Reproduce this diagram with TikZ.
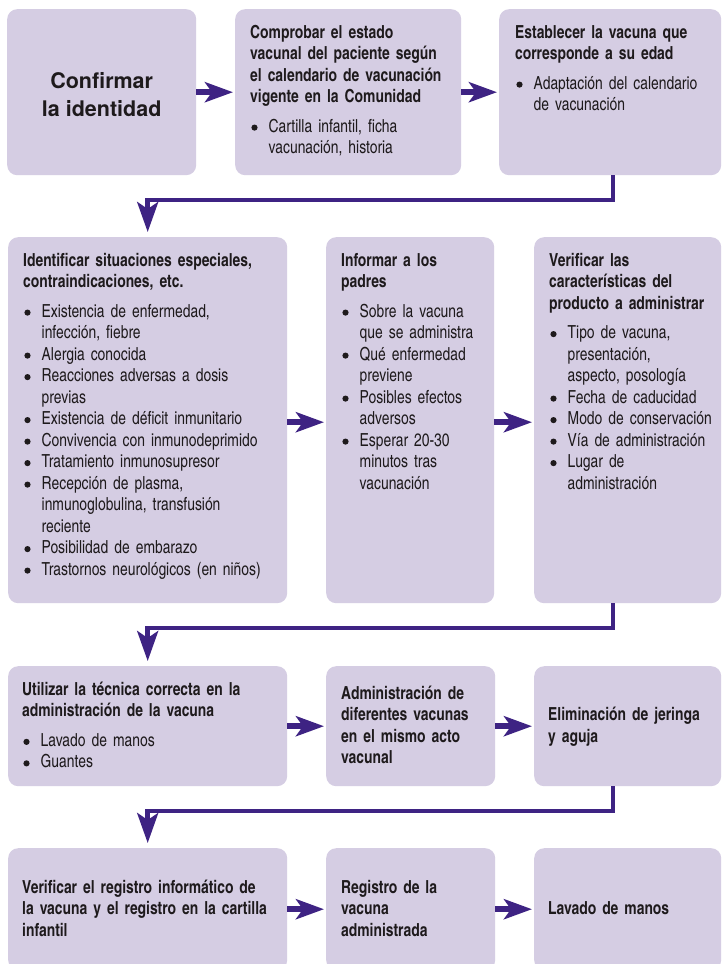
\documentclass[tikz,border=0pt]{standalone}
\usepackage{fontspec}
\setmainfont{texgyreheroscn}[Extension=.otf,UprightFont=*-regular,BoldFont=*-bold,ItalicFont=*-italic,BoldItalicFont=*-bolditalic,FakeStretch=0.94]
\newfontfamily\widefont{texgyreheros}[Extension=.otf,UprightFont=*-regular,BoldFont=*-bold,ItalicFont=*-italic,BoldItalicFont=*-bolditalic]
\usetikzlibrary{arrows.meta}
\definecolor{boxc}{HTML}{D5CDE3}
\definecolor{arc}{HTML}{3E2383}
\definecolor{textc}{HTML}{1E1A1C}
\setlength{\parindent}{0pt}
\setlength{\parskip}{0pt}
\newcommand\bmark{\tikz[baseline=0pt]\fill[textc] (0pt,4.6pt) circle[radius=3.1pt];}
\newcommand\bitem[1]{\par\hangindent=18.5pt\hangafter=1\relax\noindent\makebox[18.5pt][l]{\hspace{1.2pt}\bmark}#1\par}
\newcommand\btitle[1]{\noindent\rule{0pt}{16pt}\textbf{#1}\par\vspace{8pt}}
\newcommand\bonly[1]{\noindent\rule{0pt}{16pt}\textbf{#1}\rule[-5pt]{0pt}{5pt}}
\newcommand\dstrut{\rule[-5pt]{0pt}{5pt}}
\begin{document}
\begin{tikzpicture}[x=1pt,y=-1pt,
  box/.style={fill=boxc,draw=none,rounded corners=10pt,inner sep=0pt,anchor=north west},
  txt/.style={inner sep=0pt,text width=268pt,text=textc,font=\fontsize{18}{21.5}\selectfont},
  harrow/.style={draw=arc,line width=5.5pt,-{Stealth[length=28pt,width=20pt,inset=7pt]},shorten >=2pt},
  conn/.style={draw=arc,line width=4.5pt,line join=miter,-{Stealth[length=30pt,width=21pt,inset=7pt]},shorten >=5pt}]
\useasboundingbox (0,0) rectangle (722,964);
\fill[white] (0,0) rectangle (722,964);
\clip (0,0) rectangle (722,964);
% boxes
\node[box,minimum width=189pt,minimum height=166pt] (A) at (7,9) {};
\node[box,minimum width=226pt,minimum height=166pt] (B) at (235,9) {};
\node[box,minimum width=222pt,minimum height=166pt] (C) at (499,9) {};
\node[box,minimum width=279pt,minimum height=366pt] (D) at (8,237) {};
\node[box,minimum width=168pt,minimum height=366pt] (E) at (326,237) {};
\node[box,minimum width=187pt,minimum height=366pt] (F) at (534,237) {};
\node[box,minimum width=279pt,minimum height=120pt] (G) at (8,666) {};
\node[box,minimum width=169pt,minimum height=120pt] (H) at (326,666) {};
\node[box,minimum width=187pt,minimum height=120pt] (I) at (534,666) {};
\node[box,minimum width=279pt,minimum height=122pt] (J) at (8,848) {};
\node[box,minimum width=169pt,minimum height=122pt] (K) at (326,848) {};
\node[box,minimum width=187pt,minimum height=122pt] (L) at (534,848) {};
% texts
\node[inner sep=0pt,align=center,text=textc,font=\widefont\bfseries\fontsize{21.5}{28}\selectfont] (tA) at ([yshift=-2pt]A.center) {Confirmar\\la identidad};
\node[txt,anchor=north west] (tB) at ([shift={(15,13)}]B.north west) {\btitle{Comprobar el estado\newline vacunal del paciente según\newline el calendario de vacunación\newline vigente en la Comunidad}\bitem{Cartilla infantil, ficha\newline vacunación, historia}};
\node[txt,anchor=north west] (tC) at ([shift={(16,13)}]C.north west) {\btitle{Establecer la vacuna que\newline corresponde a su edad}\bitem{Adaptación del calendario\newline de vacunación}};
\node[txt,anchor=north west] (tD) at ([shift={(15,13)}]D.north west) {\btitle{Identificar situaciones especiales,\newline contraindicaciones, etc.}\bitem{Existencia de enfermedad,\newline infección, fiebre}\bitem{Alergia conocida}\bitem{Reacciones adversas a dosis\newline previas}\bitem{Existencia de déficit inmunitario}\bitem{Convivencia con inmunodeprimido}\bitem{Tratamiento inmunosupresor}\bitem{Recepción de plasma,\newline inmunoglobulina, transfusión\newline reciente}\bitem{Posibilidad de embarazo}\bitem{Trastornos neurológicos (en niños)}};
\node[txt,anchor=north west] (tE) at ([shift={(15,13)}]E.north west) {\btitle{Informar a los\newline padres}\bitem{Sobre la vacuna\newline que se administra}\bitem{Qué enfermedad\newline previene}\bitem{Posibles efectos\newline adversos}\bitem{Esperar 20-30\newline minutos tras\newline vacunación}};
\node[txt,anchor=north west] (tF) at ([shift={(15,13)}]F.north west) {\btitle{Verificar las\newline características del\newline producto a administrar}\bitem{Tipo de vacuna,\newline presentación,\newline aspecto, posología}\bitem{Fecha de caducidad}\bitem{Modo de conservación}\bitem{Vía de administración}\bitem{Lugar de\newline administración}};
\node[txt,anchor=west] (tG) at ([xshift=14pt]G.west) {\btitle{Utilizar la técnica correcta en la\newline administración de la vacuna}\bitem{Lavado de manos}\bitem{Guantes\dstrut}};
\node[txt,anchor=west] (tH) at ([xshift=15pt]H.west) {\bonly{Administración de\newline diferentes vacunas\newline en el mismo acto\newline vacunal}};
\node[txt,anchor=west] (tI) at ([xshift=14pt]I.west) {\bonly{Eliminación de jeringa\newline y aguja}};
\node[txt,anchor=west] (tJ) at ([xshift=14pt]J.west) {\bonly{Verificar el registro informático de\newline la vacuna y el registro en la cartilla\newline infantil}};
\node[txt,anchor=west] (tK) at ([xshift=15pt]K.west) {\bonly{Registro de la\newline vacuna\newline administrada}};
\node[txt,anchor=west] (tL) at ([xshift=14pt]L.west) {\bonly{Lavado de manos}};
% horizontal arrows
\draw[harrow] (A.east) -- (B.west);
\draw[harrow] (B.east) -- (C.west);
\draw[harrow] ([yshift=-2pt]D.east) -- ([yshift=-2pt]E.west);
\draw[harrow] ([yshift=-2pt]E.east) -- ([yshift=-2pt]F.west);
\draw[harrow] (G.east) -- (H.west);
\draw[harrow] (H.east) -- (I.west);
\draw[harrow] (J.east) -- (K.west);
\draw[harrow] (K.east) -- (L.west);
% row connectors
\coordinate (m1) at (613,200);
\coordinate (m2) at (613,628);
\coordinate (m3) at (613,811);
\draw[conn] (C.south -| m1) -- (m1) -| (D.north);
\draw[conn] (F.south -| m2) -- (m2) -| (G.north);
\draw[conn] (I.south -| m3) -- (m3) -| (J.north);
\end{tikzpicture}
\end{document}
